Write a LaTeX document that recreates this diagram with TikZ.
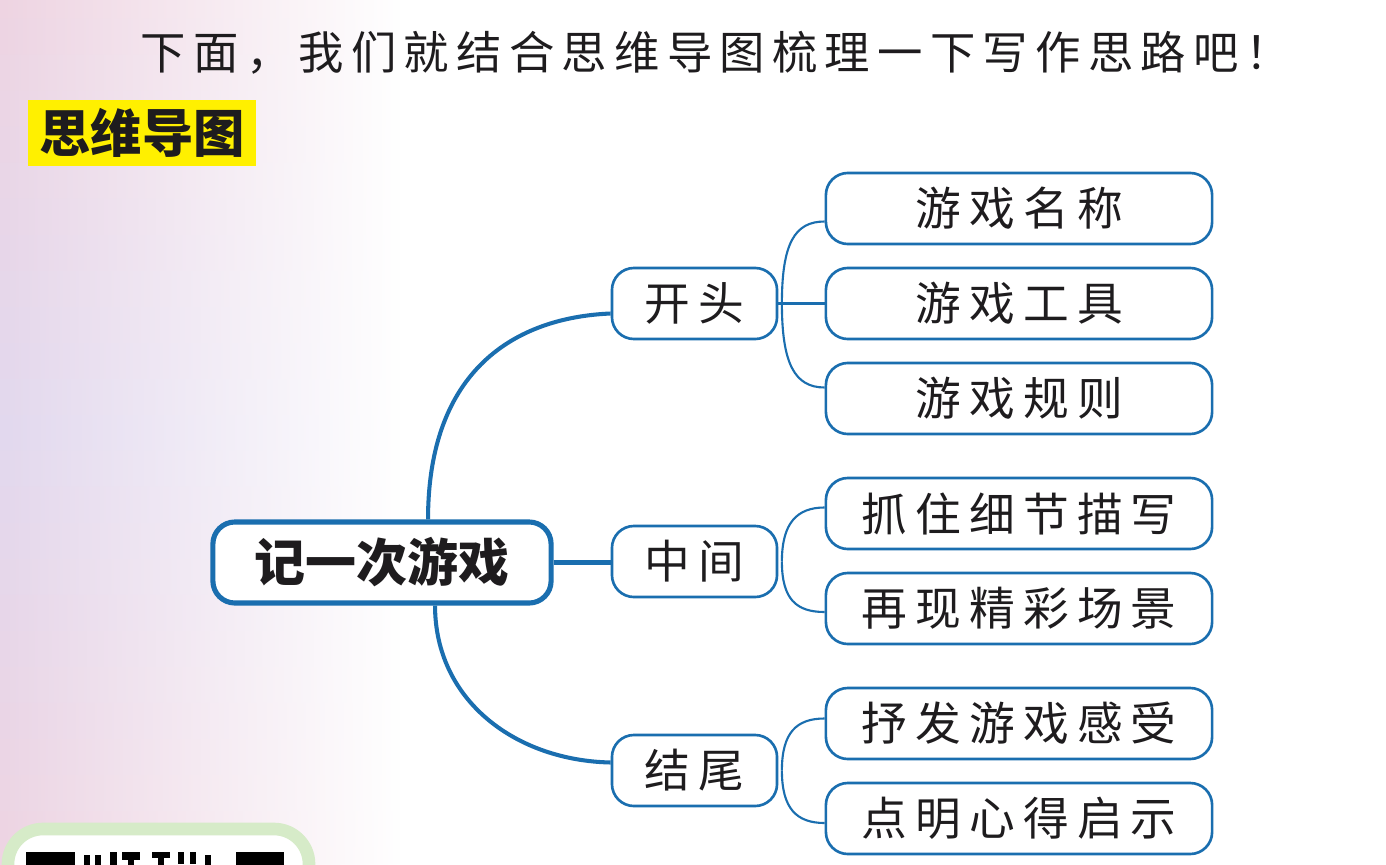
\documentclass[tikz,border=0pt]{standalone}
\usepackage{fontspec}
\setmainfont{Noto Sans CJK SC}
\newfontfamily\cjk{Noto Sans CJK SC}
\newfontfamily\cjkwide{Noto Sans CJK SC}[LetterSpace=18]
\newfontfamily\cjktitle{Noto Sans CJK SC}[LetterSpace=16]
\usetikzlibrary{calc,fadings}
\definecolor{mapblue}{RGB}{26,110,175}
\definecolor{hiyellow}{RGB}{255,240,0}
\definecolor{qrgreen}{RGB}{214,235,200}
\definecolor{inkblack}{RGB}{30,28,30}
\definecolor{bgpink}{RGB}{238,212,226}
\definecolor{bglav}{RGB}{226,216,238}
\tikzset{
  rootbox/.style={draw=mapblue, line width=1.45pt, rounded corners=0.22cm, fill=white,
    minimum width=3.38cm, minimum height=0.81cm, inner sep=0pt,
    font=\cjk\bfseries\fontsize{14.5pt}{16pt}\selectfont, text=inkblack},
  midbox/.style={draw=mapblue, line width=0.75pt, rounded corners=0.22cm, fill=white,
    minimum width=1.65cm, minimum height=0.71cm, inner sep=0pt,
    font=\cjkwide\fontsize{13pt}{15pt}\selectfont, text=inkblack},
  leafbox/.style={draw=mapblue, line width=0.75pt, rounded corners=0.22cm, fill=white,
    minimum width=3.86cm, minimum height=0.71cm, inner sep=0pt,
    font=\cjkwide\fontsize{13pt}{15pt}\selectfont, text=inkblack},
  thickline/.style={draw=mapblue, line width=1.15pt},
  thinline/.style={draw=mapblue, line width=0.6pt},
}
\begin{document}
\begin{tikzpicture}[x=0.01cm, y=-0.01cm]
\useasboundingbox (0,0) rectangle (1386,864);
\begin{scope}
\clip (0,0) rectangle (1386,864);
% background
\fill[white] (0,0) rectangle (1386,864);
\shade[top color=bgpink, bottom color=bgpink, middle color=bglav, path fading=east] (0,0) rectangle (400,864);
% QR fragment box
\draw[qrgreen, line width=3.6pt, fill=white, rounded corners=0.35cm] (8,829) rectangle (309,960);
\fill[black] (26,852) rectangle (75,870);
\fill[black] (236,852) rectangle (284,870);
\fill[black] (84,855) rectangle (90,870);
\fill[black] (95,855) rectangle (101,870);
\fill[black] (110,852) rectangle (117,870);
\fill[black] (122,852) rectangle (140,860);
\fill[black] (128,852) rectangle (134,870);
\fill[black] (152,852) rectangle (170,858);
\fill[black] (158,852) rectangle (164,870);
\fill[black] (178,852) rectangle (184,864);
\fill[black] (190,852) rectangle (196,864);
\fill[black] (205,855) rectangle (211,870);
\end{scope}

% title
\node[font=\cjktitle\fontsize{12.9pt}{14pt}\selectfont, text=inkblack] (title) at (716,53)
  {下面，我们就结合思维导图梳理一下写作思路吧！};
% yellow label
\node[fill=hiyellow, minimum width=2.28cm, minimum height=0.65cm, inner sep=0pt,
  font=\cjk\bfseries\fontsize{14.6pt}{16pt}\selectfont, text=inkblack] (label) at (142,133) {思维导图};

% nodes
\node[rootbox] (root) at (382,562.5) {记一次游戏};
\node[midbox] (kaitou) at (694.5,303.5) {开头};
\node[midbox] (zhong) at (694.5,561.5) {中间};
\node[midbox] (jiewei) at (694.5,770.5) {结尾};
\node[leafbox] (l1) at (1019,208.5) {游戏名称};
\node[leafbox] (l2) at (1019,303.5) {游戏工具};
\node[leafbox] (l3) at (1019,398.5) {游戏规则};
\node[leafbox] (l4) at (1019,513.5) {抓住细节描写};
\node[leafbox] (l5) at (1019,608.5) {再现精彩场景};
\node[leafbox] (l6) at (1019,723.5) {抒发游戏感受};
\node[leafbox] (l7) at (1019,818.5) {点明心得启示};

% main connectors
\draw[thickline] ([xshift=0.46cm]root.north) .. controls +(0,-150) and +(-95,4) .. ([yshift=-0.1cm]kaitou.west);
\draw[thickline] (root.east) -- (root.east -| zhong.west);
\draw[thickline] ([xshift=0.53cm]root.south) .. controls +(0,95) and +(-95,-2) .. ([yshift=0.08cm]jiewei.west);

% leaf connectors
\draw[thinline] ([xshift=1pt]kaitou.east) .. controls +(0,-60) and +(-30,0) .. ([yshift=-0.13cm]l1.west);
\draw[thinline] (kaitou.east) -- (l2.west);
\draw[thinline] ([xshift=1pt]kaitou.east) .. controls +(0,60) and +(-30,0) .. ([yshift=0.11cm]l3.west);
\draw[thinline] ([xshift=1pt]zhong.east) .. controls +(0,-38) and +(-28,0) .. ([yshift=0.06cm]l4.west);
\draw[thinline] ([xshift=1pt]zhong.east) .. controls +(0,38) and +(-28,0) .. ([yshift=-0.035cm]l5.west);
\draw[thinline] ([xshift=1pt]jiewei.east) .. controls +(0,-38) and +(-28,0) .. ([yshift=0.05cm]l6.west);
\draw[thinline] ([xshift=1pt]jiewei.east) .. controls +(0,38) and +(-28,0) .. ([yshift=-0.045cm]l7.west);
\end{tikzpicture}
\end{document}
